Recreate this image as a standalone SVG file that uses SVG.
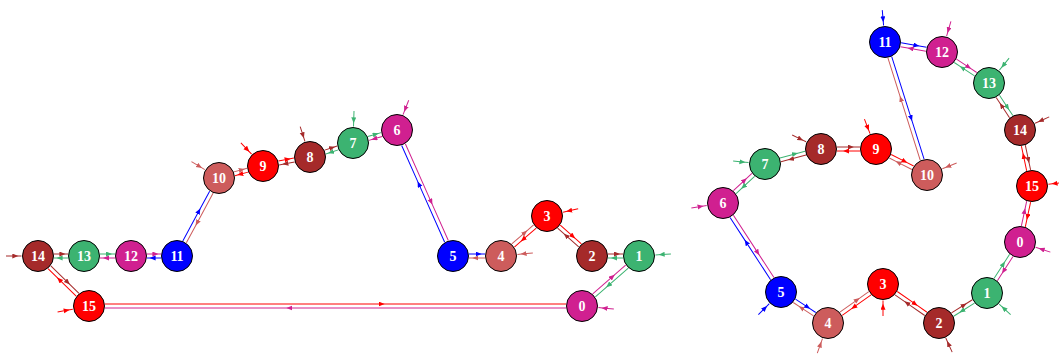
<svg xmlns="http://www.w3.org/2000/svg" width="1059" height="357" viewBox="0 0 1059 357">
<style>
path{fill:none;stroke-width:1}
.k0{stroke:#d02090;marker-mid:url(#m0)}
.k1{stroke:#3cb371;marker-mid:url(#m1)}
.k2{stroke:#a52a2a;marker-mid:url(#m2)}
.k3{stroke:#ff0000;marker-mid:url(#m3)}
.k4{stroke:#cd5c5c;marker-mid:url(#m4)}
.k5{stroke:#0000ff;marker-mid:url(#m5)}
circle{stroke:#000;stroke-width:1}
.f0{fill:#d02090}.f1{fill:#3cb371}.f2{fill:#a52a2a}.f3{fill:#ff0000}.f4{fill:#cd5c5c}.f5{fill:#0000ff}
text{font-family:"Liberation Serif","Times New Roman",serif;font-weight:bold;font-size:14px;fill:#fff;text-anchor:middle}
</style>
<defs>
<marker id="m0" markerUnits="userSpaceOnUse" markerWidth="7" markerHeight="6" refX="3" refY="2.5" orient="auto"><path d="M0,0L6,2.5L0,5z" style="fill:#d02090;stroke:none"/></marker>
<marker id="m1" markerUnits="userSpaceOnUse" markerWidth="7" markerHeight="6" refX="3" refY="2.5" orient="auto"><path d="M0,0L6,2.5L0,5z" style="fill:#3cb371;stroke:none"/></marker>
<marker id="m2" markerUnits="userSpaceOnUse" markerWidth="7" markerHeight="6" refX="3" refY="2.5" orient="auto"><path d="M0,0L6,2.5L0,5z" style="fill:#a52a2a;stroke:none"/></marker>
<marker id="m3" markerUnits="userSpaceOnUse" markerWidth="7" markerHeight="6" refX="3" refY="2.5" orient="auto"><path d="M0,0L6,2.5L0,5z" style="fill:#ff0000;stroke:none"/></marker>
<marker id="m4" markerUnits="userSpaceOnUse" markerWidth="7" markerHeight="6" refX="3" refY="2.5" orient="auto"><path d="M0,0L6,2.5L0,5z" style="fill:#cd5c5c;stroke:none"/></marker>
<marker id="m5" markerUnits="userSpaceOnUse" markerWidth="7" markerHeight="6" refX="3" refY="2.5" orient="auto"><path d="M0,0L6,2.5L0,5z" style="fill:#0000ff;stroke:none"/></marker>
</defs>
<rect width="1059" height="357" fill="#fff"/>
<g id="connectors">
<!-- left ring -->
<g transform="translate(582 306) rotate(-41.26)"><path class="k0" d="M16,-2L42.29,-2L59.82,-2"/><path class="k1" d="M59.82,2L33.53,2L16,2"/></g>
<g transform="translate(639 256) rotate(180)"><path class="k1" d="M16,-2L25,-2L31,-2"/><path class="k2" d="M31,2L22,2L16,2"/></g>
<g transform="translate(592 256) rotate(-138.37)"><path class="k2" d="M16,-2L32.93,-2L44.21,-2"/><path class="k3" d="M44.21,2L27.28,2L16,2"/></g>
<g transform="translate(547 216) rotate(138.99)"><path class="k3" d="M16,-2L33.38,-2L44.96,-2"/><path class="k4" d="M44.96,2L27.58,2L16,2"/></g>
<g transform="translate(501 256) rotate(180)"><path class="k4" d="M16,-2L25.6,-2L32,-2"/><path class="k5" d="M32,2L22.4,2L16,2"/></g>
<g transform="translate(453 256) rotate(-113.96)"><path class="k5" d="M16,-2L79.53,-2L121.88,-2"/><path class="k0" d="M121.88,2L58.35,2L16,2"/></g>
<g transform="translate(397 130) rotate(163.54)"><path class="k0" d="M16,-2L24.33,-2L29.88,-2"/><path class="k1" d="M29.88,2L21.55,2L16,2"/></g>
<g transform="translate(353 143) rotate(161.97)"><path class="k1" d="M16,-2L23.93,-2L29.22,-2"/><path class="k2" d="M29.22,2L21.29,2L16,2"/></g>
<g transform="translate(310 157) rotate(169.16)"><path class="k2" d="M16,-2L25.51,-2L31.85,-2"/><path class="k3" d="M31.85,2L22.34,2L16,2"/></g>
<g transform="translate(263 166) rotate(164.74)"><path class="k3" d="M16,-2L24.17,-2L29.61,-2"/><path class="k4" d="M29.61,2L21.44,2L16,2"/></g>
<g transform="translate(219 178) rotate(118.30)"><path class="k4" d="M16,-2L49.95,-2L72.59,-2"/><path class="k5" d="M72.59,2L38.64,2L16,2"/></g>
<g transform="translate(177 256) rotate(180)"><path class="k5" d="M16,-2L24.4,-2L30,-2"/><path class="k0" d="M30,2L21.6,2L16,2"/></g>
<g transform="translate(131 256) rotate(180)"><path class="k0" d="M16,-2L25,-2L31,-2"/><path class="k1" d="M31,2L22,2L16,2"/></g>
<g transform="translate(84 256) rotate(180)"><path class="k1" d="M16,-2L24.4,-2L30,-2"/><path class="k2" d="M30,2L21.6,2L16,2"/></g>
<g transform="translate(38 256) rotate(44.43)"><path class="k2" d="M16,-2L39.65,-2L55.42,-2"/><path class="k3" d="M55.42,2L31.77,2L16,2"/></g>
<g transform="translate(89 306)"><path class="k3" d="M16,-2L292.6,-2L477,-2"/><path class="k0" d="M477,2L200.4,2L16,2"/></g>
<!-- left input arrows -->
<g transform="translate(38 256) rotate(180)"><path class="k2" d="M32,0L22.7,0L16.5,0"/></g>
<g transform="translate(89 306) rotate(169.05)"><path class="k3" d="M32,0L22.7,0L16.5,0"/></g>
<g transform="translate(582 306) rotate(5.53)"><path class="k0" d="M32,0L22.7,0L16.5,0"/></g>
<g transform="translate(639 256) rotate(-3.69)"><path class="k1" d="M32,0L22.7,0L16.5,0"/></g>
<g transform="translate(547 216) rotate(-13.13)"><path class="k3" d="M32,0L22.7,0L16.5,0"/></g>
<g transform="translate(501 256) rotate(-5.53)"><path class="k4" d="M32,0L22.7,0L16.5,0"/></g>
<g transform="translate(397 130) rotate(-68.55)"><path class="k0" d="M32,0L22.7,0L16.5,0"/></g>
<g transform="translate(353 143) rotate(-88.2)"><path class="k1" d="M32,0L22.7,0L16.5,0"/></g>
<g transform="translate(310 157) rotate(-107.88)"><path class="k2" d="M32,0L22.7,0L16.5,0"/></g>
<g transform="translate(263 166) rotate(-133.73)"><path class="k3" d="M32,0L22.7,0L16.5,0"/></g>
<g transform="translate(219 178) rotate(-149.35)"><path class="k4" d="M32,0L22.7,0L16.5,0"/></g>
<!-- right ring -->
<g transform="translate(1020 242) rotate(122.91)"><path class="k0" d="M16,-2L33.25,-2L44.75,-2"/><path class="k1" d="M44.75,2L27.5,2L16,2"/></g>
<g transform="translate(987 293) rotate(147.99)"><path class="k1" d="M16,-2L30.76,-2L40.6,-2"/><path class="k2" d="M40.6,2L25.84,2L16,2"/></g>
<g transform="translate(939 323) rotate(-145.15)"><path class="k2" d="M16,-2L37.74,-2L52.24,-2"/><path class="k3" d="M52.24,2L30.5,2L16,2"/></g>
<g transform="translate(883 284) rotate(144.66)"><path class="k3" d="M16,-2L37.25,-2L51.42,-2"/><path class="k4" d="M51.42,2L30.17,2L16,2"/></g>
<g transform="translate(828 323) rotate(-146.59)"><path class="k4" d="M16,-2L30.58,-2L40.3,-2"/><path class="k5" d="M40.3,2L25.72,2L16,2"/></g>
<g transform="translate(781 292) rotate(-123.09)"><path class="k5" d="M16,-2L60.54,-2L90.23,-2"/><path class="k0" d="M90.23,2L45.69,2L16,2"/></g>
<g transform="translate(723 203) rotate(-42.88)"><path class="k0" d="M16,-2L31.19,-2L41.31,-2"/><path class="k1" d="M41.31,2L26.12,2L16,2"/></g>
<g transform="translate(765 164) rotate(-14.99)"><path class="k1" d="M16,-2L31.58,-2L41.97,-2"/><path class="k2" d="M41.97,2L26.39,2L16,2"/></g>
<g transform="translate(821 149)"><path class="k2" d="M16,-2L29.8,-2L39,-2"/><path class="k3" d="M39,2L25.2,2L16,2"/></g>
<g transform="translate(876 149) rotate(27.01)"><path class="k3" d="M16,-2L31.15,-2L41.25,-2"/><path class="k4" d="M41.25,2L26.1,2L16,2"/></g>
<g transform="translate(927 175) rotate(-107.53)"><path class="k4" d="M16,-2L80.48,-2L123.47,-2"/><path class="k5" d="M123.47,2L58.99,2L16,2"/></g>
<g transform="translate(885 42) rotate(9.95)"><path class="k5" d="M16,-2L31.52,-2L41.87,-2"/><path class="k0" d="M41.87,2L26.35,2L16,2"/></g>
<g transform="translate(942 52) rotate(33.41)"><path class="k0" d="M16,-2L30.58,-2L40.3,-2"/><path class="k1" d="M40.3,2L25.72,2L16,2"/></g>
<g transform="translate(989 83) rotate(56.59)"><path class="k1" d="M16,-2L30.58,-2L40.3,-2"/><path class="k2" d="M40.3,2L25.72,2L16,2"/></g>
<g transform="translate(1020 130) rotate(77.91)"><path class="k2" d="M16,-2L31.16,-2L41.27,-2"/><path class="k3" d="M41.27,2L26.11,2L16,2"/></g>
<g transform="translate(1032 186) rotate(102.09)"><path class="k3" d="M16,-2L31.16,-2L41.27,-2"/><path class="k0" d="M41.27,2L26.11,2L16,2"/></g>
<!-- right input arrows -->
<g transform="translate(885 42) rotate(-94.9)"><path class="k5" d="M32,0L22.7,0L16.5,0"/></g>
<g transform="translate(942 52) rotate(-73.81)"><path class="k0" d="M32,0L22.7,0L16.5,0"/></g>
<g transform="translate(989 83) rotate(-51.07)"><path class="k1" d="M32,0L22.7,0L16.5,0"/></g>
<g transform="translate(1020 130) rotate(-24.15)"><path class="k2" d="M32,0L22.7,0L16.5,0"/></g>
<g transform="translate(1032 186) rotate(-6.34)"><path class="k3" d="M32,0L22.7,0L16.5,0"/></g>
<g transform="translate(1020 242) rotate(18.43)"><path class="k0" d="M32,0L22.7,0L16.5,0"/></g>
<g transform="translate(987 293) rotate(42.4)"><path class="k1" d="M32,0L22.7,0L16.5,0"/></g>
<g transform="translate(939 323) rotate(65.7)"><path class="k2" d="M32,0L22.7,0L16.5,0"/></g>
<g transform="translate(883 284) rotate(90)"><path class="k3" d="M32,0L22.7,0L16.5,0"/></g>
<g transform="translate(828 323) rotate(109.54)"><path class="k4" d="M32,0L22.7,0L16.5,0"/></g>
<g transform="translate(781 292) rotate(135)"><path class="k5" d="M32,0L22.7,0L16.5,0"/></g>
<g transform="translate(723 203) rotate(171.12)"><path class="k0" d="M32,0L22.7,0L16.5,0"/></g>
<g transform="translate(765 164) rotate(-174.81)"><path class="k1" d="M32,0L22.7,0L16.5,0"/></g>
<g transform="translate(821 149) rotate(-154.18)"><path class="k2" d="M32,0L22.7,0L16.5,0"/></g>
<g transform="translate(876 149) rotate(-111.16)"><path class="k3" d="M32,0L22.7,0L16.5,0"/></g>
<g transform="translate(927 175) rotate(-22.11)"><path class="k4" d="M32,0L22.7,0L16.5,0"/></g>
</g>
<!-- left nodes -->
<g id="a0"><circle class="f0" cx="582" cy="306" r="15.5"/><text x="582" y="311">0</text></g>
<g id="a1"><circle class="f1" cx="639" cy="256" r="15.5"/><text x="639" y="261">1</text></g>
<g id="a2"><circle class="f2" cx="592" cy="256" r="15.5"/><text x="592" y="261">2</text></g>
<g id="a3"><circle class="f3" cx="547" cy="216" r="15.5"/><text x="547" y="221">3</text></g>
<g id="a4"><circle class="f4" cx="501" cy="256" r="15.5"/><text x="501" y="261">4</text></g>
<g id="a5"><circle class="f5" cx="453" cy="256" r="15.5"/><text x="453" y="261">5</text></g>
<g id="a6"><circle class="f0" cx="397" cy="130" r="15.5"/><text x="397" y="135">6</text></g>
<g id="a7"><circle class="f1" cx="353" cy="143" r="15.5"/><text x="353" y="148">7</text></g>
<g id="a8"><circle class="f2" cx="310" cy="157" r="15.5"/><text x="310" y="162">8</text></g>
<g id="a9"><circle class="f3" cx="263" cy="166" r="15.5"/><text x="263" y="171">9</text></g>
<g id="a10"><circle class="f4" cx="219" cy="178" r="15.5"/><text x="219" y="183">10</text></g>
<g id="a11"><circle class="f5" cx="177" cy="256" r="15.5"/><text x="177" y="261">11</text></g>
<g id="a12"><circle class="f0" cx="131" cy="256" r="15.5"/><text x="131" y="261">12</text></g>
<g id="a13"><circle class="f1" cx="84" cy="256" r="15.5"/><text x="84" y="261">13</text></g>
<g id="a14"><circle class="f2" cx="38" cy="256" r="15.5"/><text x="38" y="261">14</text></g>
<g id="a15"><circle class="f3" cx="89" cy="306" r="15.5"/><text x="89" y="311">15</text></g>
<!-- right nodes -->
<g id="b0"><circle class="f0" cx="1020" cy="242" r="15.5"/><text x="1020" y="247">0</text></g>
<g id="b1"><circle class="f1" cx="987" cy="293" r="15.5"/><text x="987" y="298">1</text></g>
<g id="b2"><circle class="f2" cx="939" cy="323" r="15.5"/><text x="939" y="328">2</text></g>
<g id="b3"><circle class="f3" cx="883" cy="284" r="15.5"/><text x="883" y="289">3</text></g>
<g id="b4"><circle class="f4" cx="828" cy="323" r="15.5"/><text x="828" y="328">4</text></g>
<g id="b5"><circle class="f5" cx="781" cy="292" r="15.5"/><text x="781" y="297">5</text></g>
<g id="b6"><circle class="f0" cx="723" cy="203" r="15.5"/><text x="723" y="208">6</text></g>
<g id="b7"><circle class="f1" cx="765" cy="164" r="15.5"/><text x="765" y="169">7</text></g>
<g id="b8"><circle class="f2" cx="821" cy="149" r="15.5"/><text x="821" y="154">8</text></g>
<g id="b9"><circle class="f3" cx="876" cy="149" r="15.5"/><text x="876" y="154">9</text></g>
<g id="b10"><circle class="f4" cx="927" cy="175" r="15.5"/><text x="927" y="180">10</text></g>
<g id="b11"><circle class="f5" cx="885" cy="42" r="15.5"/><text x="885" y="47">11</text></g>
<g id="b12"><circle class="f0" cx="942" cy="52" r="15.5"/><text x="942" y="57">12</text></g>
<g id="b13"><circle class="f1" cx="989" cy="83" r="15.5"/><text x="989" y="88">13</text></g>
<g id="b14"><circle class="f2" cx="1020" cy="130" r="15.5"/><text x="1020" y="135">14</text></g>
<g id="b15"><circle class="f3" cx="1032" cy="186" r="15.5"/><text x="1032" y="191">15</text></g>
</svg>
